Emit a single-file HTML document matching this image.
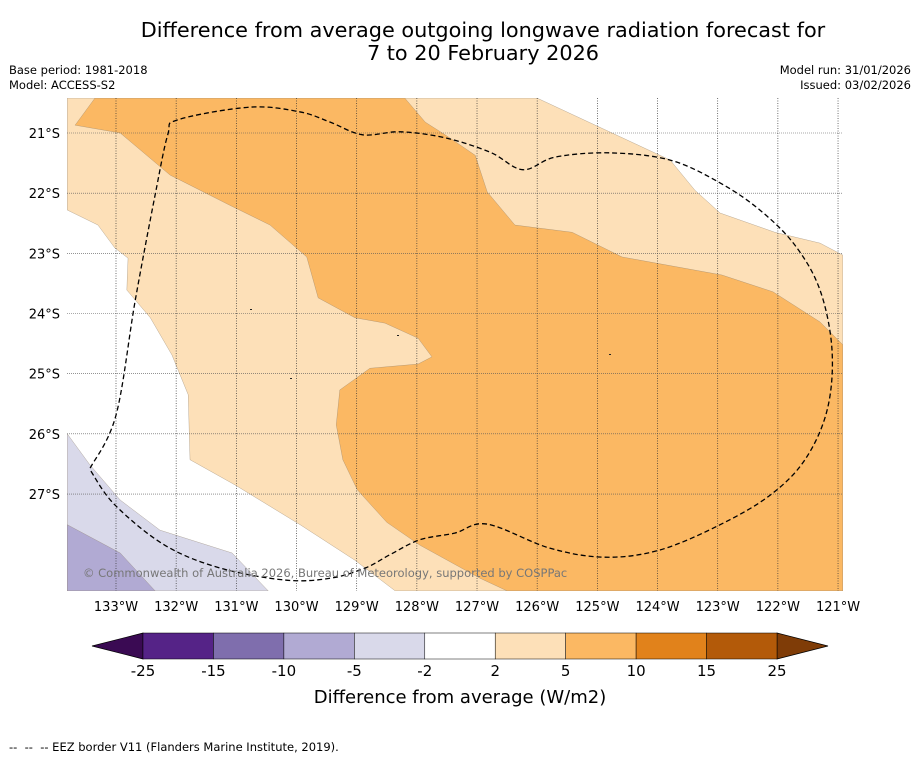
<!DOCTYPE html>
<html><head><meta charset="utf-8"><style>
body{margin:0;background:#fff;font-family:"Liberation Sans","DejaVu Sans",sans-serif;}
#wrap{position:relative;width:919px;height:758px;overflow:hidden;}
.t{position:absolute;white-space:nowrap;}
</style></head><body>
<div id="wrap">
<div class="t" style="left:0;width:966px;text-align:center;top:19px;font-size:20.8px;line-height:23px;font-family:'DejaVu Sans',sans-serif;">Difference from average outgoing longwave radiation forecast for<br>7 to 20 February 2026</div>
<div class="t" style="left:9px;top:63px;font-size:11.5px;line-height:15px;font-family:'DejaVu Sans',sans-serif;">Base period: 1981-2018<br>Model: ACCESS-S2</div>
<div class="t" style="right:8px;top:63px;font-size:11.5px;line-height:15px;text-align:right;font-family:'DejaVu Sans',sans-serif;">Model run: 31/01/2026<br>Issued: 03/02/2026</div>
<svg id="map" width="919" height="758" style="position:absolute;left:0;top:0"></svg>
<div class="t" style="left:9px;top:740px;font-size:11.5px;font-family:'DejaVu Sans',sans-serif;">--&nbsp; --&nbsp; -- EEZ border V11 (Flanders Marine Institute, 2019).</div>
</div>
<script>
const lonTicks=[-133,-132,-131,-130,-129,-128,-127,-126,-125,-124,-123,-122,-121];
const latTicks=[-21,-22,-23,-24,-25,-26,-27];
const lightOrange=[[-133.81,-20.42],[-126,-20.42],[-123.79,-21.45],[-123.38,-21.95],[-122.96,-22.33],[-122.05,-22.65],[-121.3,-22.83],[-120.92,-23.03],[-120.92,-28.61],[-128.36,-28.61],[-129.03,-28.1],[-129.94,-27.51],[-131.02,-26.85],[-131.77,-26.43],[-131.8,-25.35],[-132.07,-24.69],[-132.43,-24.07],[-132.82,-23.61],[-132.8,-23.08],[-133.02,-22.91],[-133.3,-22.53],[-133.81,-22.28]];
const orange=[[-133.68,-20.87],[-133.35,-20.42],[-128.2,-20.42],[-127.86,-20.82],[-127.53,-21.03],[-127.03,-21.37],[-126.83,-21.98],[-126.37,-22.53],[-125.42,-22.65],[-124.59,-23.06],[-122.93,-23.36],[-122.08,-23.64],[-121.3,-24.14],[-120.92,-24.52],[-120.92,-28.61],[-126.5,-28.61],[-126.95,-28.4],[-127.95,-27.85],[-128.5,-27.47],[-128.99,-26.93],[-129.23,-26.43],[-129.34,-25.85],[-129.28,-25.27],[-128.78,-24.91],[-127.98,-24.84],[-127.75,-24.72],[-127.98,-24.41],[-128.53,-24.16],[-129.03,-24.07],[-129.64,-23.74],[-129.83,-23.06],[-130.44,-22.53],[-131.11,-22.2],[-132.1,-21.7],[-132.93,-21]];
const lightPurple=[[-133.81,-26.0],[-133.43,-26.52],[-132.93,-27.1],[-132.27,-27.6],[-131.07,-27.98],[-130.47,-28.61],[-133.81,-28.61]];
const purple=[[-133.81,-27.51],[-132.93,-27.98],[-132.35,-28.61],[-133.81,-28.61]];
const eez=[[-133.43,-26.57],[-133,-25.69],[-132.68,-23.78],[-132.35,-22.03],[-132.14,-21.03],[-131.97,-20.78],[-130.77,-20.57],[-129.94,-20.65],[-129.44,-20.82],[-128.9,-21.03],[-128.28,-20.98],[-127.53,-21.08],[-126.78,-21.32],[-126.24,-21.61],[-125.7,-21.4],[-124.79,-21.33],[-123.79,-21.45],[-122.96,-21.83],[-122.3,-22.28],[-121.72,-22.86],[-121.3,-23.61],[-121.1,-24.61],[-121.18,-25.6],[-121.55,-26.43],[-122.13,-27.02],[-122.96,-27.51],[-123.96,-27.93],[-124.87,-28.05],[-125.79,-27.9],[-126.83,-27.5],[-127.37,-27.65],[-127.95,-27.76],[-128.45,-28.01],[-128.86,-28.23],[-129.44,-28.4],[-130.19,-28.43],[-131.27,-28.23],[-132.19,-27.85],[-133.02,-27.18],[-133.43,-26.6]];
const cbLabels=["-25","-15","-10","-5","-2","2","5","10","15","25"];
const cbColors=["#552387","#7f6ead","#b1aad3","#d9d9ea","#ffffff","#fde0b8","#fbb863","#e1821b","#b35a09"];
const X0=67,X1=843,Y0=98,Y1=591,PPD=60.17;
const x=lon=>116+(lon+133)*PPD;
const y=lat=>133+(-21-lat)*PPD;
const svg=document.getElementById('map');
const NS='http://www.w3.org/2000/svg';
function mk(tag,attrs){const e=document.createElementNS(NS,tag);for(const k in attrs)e.setAttribute(k,attrs[k]);svg.appendChild(e);return e;}
const clip=mk('clipPath',{id:'mc'});const cr=document.createElementNS(NS,'rect');
cr.setAttribute('x',X0);cr.setAttribute('y',Y0);cr.setAttribute('width',X1-X0);cr.setAttribute('height',Y1-Y0);clip.appendChild(cr);
function poly(pts,fill,name){const e=mk('polygon',{points:pts.map(p=>x(p[0])+','+y(p[1])).join(' '),fill:fill,stroke:'#8a7a66','stroke-width':0.3,'clip-path':'url(#mc)'});

}
poly(lightOrange,'#fde0b8','contour-2-to-5');
poly(orange,'#fbb863','contour-5-to-10');
poly(lightPurple,'#d9d9ea','contour-minus5-to-minus2');
poly(purple,'#b1aad3','contour-minus10-to-minus5');
lonTicks.forEach(l=>{const g=mk('line',{x1:x(l),x2:x(l),y1:Y0,y2:Y1,stroke:'#333','stroke-width':0.7,'stroke-dasharray':'1,1.5'});


const t=mk('text',{x:x(l),y:611,'text-anchor':'middle','font-size':13,'font-family':'DejaVu Sans,sans-serif'});t.textContent=(-l)+'°W';

});
latTicks.forEach(l=>{const g=mk('line',{x1:X0,x2:X1,y1:y(l),y2:y(l),stroke:'#555','stroke-width':0.6,'stroke-dasharray':'1,1'});


const t=mk('text',{x:60,y:y(l)+5,'text-anchor':'end','font-size':13,'font-family':'DejaVu Sans,sans-serif'});t.textContent=(-l)+'°S';

});
// smooth path through EEZ points (Catmull-Rom)
const P=eez.map(p=>[x(p[0]),y(p[1])]);
let d='M'+P[0][0]+','+P[0][1];
for(let i=0;i<P.length-1;i++){const p0=P[Math.max(0,i-1)],p1=P[i],p2=P[i+1],p3=P[Math.min(P.length-1,i+2)];
d+=' C'+(p1[0]+(p2[0]-p0[0])/6)+','+(p1[1]+(p2[1]-p0[1])/6)+' '+(p2[0]-(p3[0]-p1[0])/6)+','+(p2[1]-(p3[1]-p1[1])/6)+' '+p2[0]+','+p2[1];}
const ez=mk('path',{d:d,fill:'none',stroke:'#000','stroke-width':1.3,'stroke-dasharray':'5,3','clip-path':'url(#mc)'});


[[250,309],[290,378],[397,335],[609,354]].forEach(p=>{const dd=mk('rect',{x:p[0],y:p[1],width:2,height:1,fill:'#222'});

});
const cp=mk('text',{x:83,y:577,'font-size':11.5,fill:'#777','font-family':'DejaVu Sans,sans-serif'});cp.textContent='© Commonwealth of Australia 2026, Bureau of Meteorology, supported by COSPPac';


const cbL=143,cbR=777,cbT=633,cbB=659,w=(cbR-cbL)/cbColors.length;
const lt=mk('polygon',{points:`${cbL},${cbT} 92,646 ${cbL},${cbB}`,fill:'#3a0a53',stroke:'#000','stroke-width':0.7});


const rt=mk('polygon',{points:`${cbR},${cbT} 828,646 ${cbR},${cbB}`,fill:'#7f3c07',stroke:'#000','stroke-width':0.7});


cbColors.forEach((c,i)=>{const r=mk('rect',{x:cbL+i*w,y:cbT,width:w,height:cbB-cbT,fill:c,stroke:'#000','stroke-width':0.5});

});
cbLabels.forEach((s,i)=>{const t=mk('text',{x:cbL+i*w,y:676,'text-anchor':'middle','font-size':15,'font-family':'DejaVu Sans,sans-serif'});t.textContent=s;

});
const ct=mk('text',{x:460,y:703,'text-anchor':'middle','font-size':18,'font-family':'DejaVu Sans,sans-serif'});ct.textContent='Difference from average (W/m2)';


</script>
</body></html>
